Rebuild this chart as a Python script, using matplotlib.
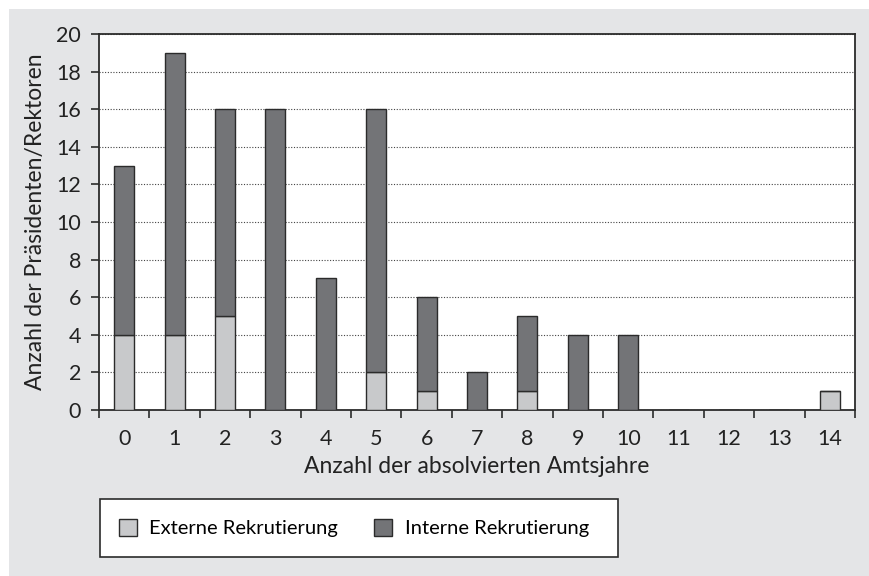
import numpy as np
import matplotlib as mpl
mpl.use('Agg')
import matplotlib.pyplot as plt
from matplotlib.patches import Rectangle

years = np.arange(15)
extern = [4, 4, 5, 0, 0, 2, 1, 0, 1, 0, 0, 0, 0, 0, 1]
intern = [9, 15, 11, 16, 7, 14, 5, 2, 4, 4, 4, 0, 0, 0, 0]

plt.rcParams['font.family'] = ['Lato', 'DejaVu Sans']

c_ext = '#c8c9cb'
c_int = '#737477'
c_edge = '#2b2b2b'
c_bg = '#e4e5e7'
c_txt = '#222222'

fig = plt.figure(figsize=(8.7, 5.76), dpi=100, facecolor='white')
fig.patches.append(Rectangle((9/870, 0), 1, 1 - 9/576, transform=fig.transFigure,
                             facecolor=c_bg, edgecolor='none', zorder=-2))
# white box behind the legend
fig.patches.append(Rectangle((100/870, 19/576), 518/870, 58/576, transform=fig.transFigure,
                             facecolor='white', edgecolor=c_edge, linewidth=1.2, zorder=-1))

ax = fig.add_axes([99/870, 1 - 410/576, 756/870, 376/576])
ax.set_facecolor('white')

ax.bar(years, extern, width=0.4, color=c_ext, edgecolor=c_edge, linewidth=1.0,
       label='Externe Rekrutierung', zorder=3)
ax.bar(years, intern, width=0.4, bottom=extern, color=c_int, edgecolor=c_edge,
       linewidth=1.0, label='Interne Rekrutierung', zorder=3)

ax.set_xlim(-0.5, 14.5)
ax.set_ylim(0, 20)
ax.set_yticks(range(0, 21, 2))
ax.yaxis.grid(True, linestyle=(0, (1, 1.5)), color='#444444', linewidth=0.8, zorder=1)
ax.set_axisbelow(True)

# category labels centred, tick marks between categories
ax.set_xticks(np.arange(-0.5, 15, 1))
ax.set_xticklabels([])
ax.set_xticks(years, minor=True)
ax.set_xticklabels([str(y) for y in years], minor=True)
ax.tick_params(axis='x', which='minor', length=0, pad=13.5, labelsize=15.5, colors=c_txt)
ax.tick_params(axis='x', which='major', length=6, width=1.2, direction='out', color=c_edge)
ax.tick_params(axis='y', length=6, width=1.2, direction='out', color=c_edge, pad=7,
               labelsize=15.5, labelcolor=c_txt)

for s in ax.spines.values():
    s.set_color(c_edge)
    s.set_linewidth(1.3)

ax.set_xlabel('Anzahl der absolvierten Amtsjahre', fontsize=16.5, color=c_txt, labelpad=5)
ax.set_ylabel('Anzahl der Präsidenten/Rektoren', fontsize=16.5, color=c_txt, labelpad=7)

h, l = ax.get_legend_handles_labels()
leg = fig.legend(h, l, loc='center left', bbox_to_anchor=(119/870, 48/576),
                 ncol=2, fontsize=14.5, frameon=False,
                 handlelength=0.9, handleheight=0.9, borderaxespad=0, borderpad=0,
                 handletextpad=0.6, columnspacing=1.8)

fig.savefig('out.png', dpi=100, facecolor=fig.get_facecolor())
plt.close()
